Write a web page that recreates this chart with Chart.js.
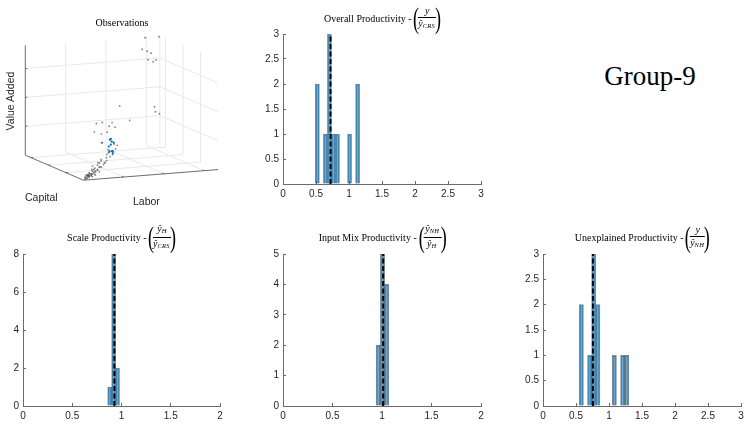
<!DOCTYPE html>
<html>
<head>
<meta charset="utf-8">
<script src="https://cdn.jsdelivr.net/npm/chart.js@4.4.0/dist/chart.umd.min.js"></script>
<style>
  html, body { margin: 0; padding: 0; background: #fff; }
  body { width: 750px; height: 426px; position: relative; overflow: hidden; }
  canvas { position: absolute; }
  .ttl { position: absolute; display: flex; align-items: center; justify-content: center;
         font-family: "Liberation Serif", serif; font-size: 10px; color: #000;
         white-space: nowrap; transform: translateX(-50%); }
  .par { font-size: 30px; line-height: 28px; display: inline-block; transform: scaleX(0.6); margin: 0 -3px; font-weight: 300; }
  .frac { display: inline-flex; flex-direction: column; align-items: center; font-size: 10px; line-height: 10px; }
  .frac .num { border-bottom: 0.8px solid #000; padding: 0 2px 1px; text-align: center; align-self: stretch; }
  .frac .den { padding-top: 1px; padding-right: 1px; }
  .frac sub { font-size: 6.5px; font-style: italic; vertical-align: -1px; letter-spacing: 0.3px; }
  .lbl { position: absolute; font-family: "Liberation Sans", Arial, sans-serif; font-size: 10.5px;
         color: #262626; white-space: nowrap; }
  .grp { position: absolute; left: 650px; top: 63px; transform: translateX(-50%);
         font-family: "Liberation Serif", serif; font-size: 27px; line-height: 27px; color: #000; }
</style>
</head>
<body>
<canvas id="obs"></canvas>
<canvas id="overall"></canvas>
<canvas id="scale"></canvas>
<canvas id="mix"></canvas>
<canvas id="unexpl"></canvas>

<div class="ttl" style="left:122px; top:15px; height:14px;">Observations</div>
<div class="lbl" style="left:10px; top:101px; transform:translate(-50%,-50%) rotate(-90deg);">Value Added</div>
<div class="lbl" style="left:25px; top:191px;">Capital</div>
<div class="lbl" style="left:133px; top:195px;">Labor</div>

<div class="ttl" style="left:382px; top:4px; height:28px;">Overall Productivity -&nbsp;<span class="par">(</span><span class="frac"><span class="num"><i>y</i></span><span class="den"><i>ŷ</i><sub>CRS</sub></span></span><span class="par">)</span></div>
<div class="ttl" style="left:121px; top:223px; height:28px;">Scale Productivity -&nbsp;<span class="par">(</span><span class="frac"><span class="num"><i>ŷ</i><sub>H</sub></span><span class="den"><i>ŷ</i><sub>CRS</sub></span></span><span class="par">)</span></div>
<div class="ttl" style="left:382px; top:223px; height:28px;">Input Mix Productivity -&nbsp;<span class="par">(</span><span class="frac"><span class="num"><i>ŷ</i><sub>NH</sub></span><span class="den"><i>ŷ</i><sub>H</sub></span></span><span class="par">)</span></div>
<div class="ttl" style="left:642px; top:223px; height:28px;">Unexplained Productivity -&nbsp;<span class="par">(</span><span class="frac"><span class="num"><i>y</i></span><span class="den"><i>ŷ</i><sub>NH</sub></span></span><span class="par">)</span></div>

<div class="grp">Group-9</div>

<script>
// histogram bins (centres) and counts
const overallCenters = [0.5205, 0.5815, 0.6425, 0.7035, 0.7645, 0.8255, 0.8865, 0.9475, 1.0085, 1.0695, 1.1305];
const overallCounts  = [2, 0, 1, 3, 1, 1, 0, 0, 1, 0, 2];
const overallMean = 0.72;

const scaleCenters = [0.88, 0.92, 0.96];
const scaleCounts  = [1, 8, 2];
const scaleMean = 0.928;

const mixCenters = [0.962, 1.005, 1.048];
const mixCounts  = [2, 5, 4];
const mixMean = 1.012;

const unexplCenters = [0.58125, 0.64375, 0.70625, 0.76875, 0.83125, 0.89375, 0.95625, 1.01875, 1.08125, 1.14375, 1.20625, 1.26875];
const unexplCounts  = [2, 0, 1, 3, 2, 0, 0, 0, 1, 0, 1, 1];
const unexplMean = 0.756;

// 3-D observations (normalised capital, labor, value added)
const obsCapital = [
  0.03,0.05,0.04,0.06,0.08,0.02,0.07,0.05,0.09,0.10,0.03,0.06,0.04,0.08,0.11,0.02,0.07,0.05,0.09,0.12,
  0.04,0.06,0.10,0.03,0.08,0.05,0.07,0.09,0.02,0.06,
  0.08,0.10,0.12,0.06,0.14,0.09,0.15,0.11,0.13,0.07,0.16,0.12,0.18,0.10,0.20,0.14,0.17,0.08,0.19,0.05,
  0.22,0.13,0.11,0.16,0.24,0.09,0.21,0.15,0.26,0.18,
  0.5,0.5,0.5,0.5,0.5,0.3,0.3,0.3,0.3,0.3,0.3,0.3,0.3,
  0.95,0.95,0.95,0.95,0.95,0.95,0.95,0.95
];
const obsLabor = [
  0.04,0.05,0.06,0.07,0.06,0.03,0.09,0.08,0.10,0.08,0.07,0.04,0.10,0.11,0.09,0.05,0.05,0.11,0.07,0.10,
  0.03,0.09,0.12,0.08,0.08,0.06,0.12,0.13,0.02,0.06,
  0.14,0.16,0.13,0.15,0.18,0.20,0.17,0.22,0.19,0.18,0.24,0.25,0.21,0.26,0.28,0.30,0.23,0.12,0.15,0.14,
  0.27,0.16,0.11,0.32,0.30,0.17,0.20,0.13,0.34,0.26,
  0.486,0.744,0.751,0.781,0.56,0.27,0.343,0.321,0.226,0.211,0.263,0.307,0.365,
  0.869,0.972,0.847,0.884,0.913,0.891,0.928,0.95
];
const obsValueAdded = [
  0.03,0.05,0.08,0.06,0.10,0.02,0.09,0.12,0.11,0.07,0.10,0.04,0.14,0.15,0.13,0.06,0.08,0.10,0.05,0.09,
  0.04,0.13,0.16,0.07,0.12,0.09,0.18,0.20,0.01,0.11,
  0.25,0.30,0.22,0.35,0.40,0.45,0.33,0.50,0.28,0.42,0.55,0.62,0.48,0.70,0.75,0.85,0.38,0.30,0.27,0.20,
  0.60,0.18,0.24,0.95,0.68,0.52,0.35,0.15,0.90,0.80,
  1.96,1.83,1.66,1.58,1.43,1.64,1.61,1.49,1.62,1.33,1.24,1.29,1.44,
  3.79,3.79,3.40,3.32,3.24,3.02,2.94,2.99
];
const groupCapital    = [0.2,0.2,0.2,0.2,0.2,0.2,0.2,0.2,0.2,0.2,0.2];
const groupLabor      = [0.224,0.283,0.297,0.312,0.275,0.297,0.275,0.305,0.29,0.29,0.305];
const groupValueAdded = [1.04,1.12,1.05,1.01,0.89,0.72,0.69,0.65,0.95,1.15,0.72];

const capTicks = [0.3, 0.6, 0.9];
const labTicks = [0.3, 0.6, 0.9];
const vaTicks  = [1, 2, 3];
const vaMax = 3.8;

const axisColor = '#6b6b6b';
const tickFont = { family: 'Liberation Sans', size: 10 };
const fmt = v => String(+v.toFixed(2));

// oblique view of the 3-D box
function project(c, l, v) {
  return { x: 82 - 60 * c + 139 * l, y: 183 - 26 * c - 11 * l - 30 * v };
}

const box3d = {
  id: 'box3d',
  beforeDatasetsDraw(chart) {
    const ctx = chart.ctx, sx = chart.scales.x, sy = chart.scales.y;
    const P = (c, l, v) => {
      const p = project(c, l, v);
      return [sx.getPixelForValue(p.x), sy.getPixelForValue(p.y)];
    };
    const seg = (a, b, col) => {
      ctx.beginPath(); ctx.moveTo(a[0], a[1]); ctx.lineTo(b[0], b[1]);
      ctx.strokeStyle = col; ctx.lineWidth = 1; ctx.stroke();
    };
    ctx.save();
    const g = '#e8e8e8';
    capTicks.forEach(c => { seg(P(c, 0, 0), P(c, 1, 0), g); seg(P(c, 1, 0), P(c, 1, vaMax), g); });
    labTicks.forEach(l => { seg(P(0, l, 0), P(1, l, 0), g); seg(P(1, l, 0), P(1, l, vaMax), g); });
    vaTicks.forEach(v => { seg(P(1, 0, v), P(1, 1, v), g); seg(P(1, 1, v), P(0, 1, v), g); });
    seg(P(1, 1, 0), P(1, 1, vaMax), g);
    // axes
    seg(P(0, 0, 0), P(1, 0, 0), axisColor);
    seg(P(0, 0, 0), P(0, 1, 0), axisColor);
    seg(P(1, 0, 0), P(1, 0, vaMax), axisColor);
    capTicks.forEach(c => seg(P(c, 0, 0), P(c, 0.015, 0), axisColor));
    labTicks.forEach(l => seg(P(0, l, 0), P(0.03, l, 0), axisColor));
    vaTicks.forEach(v => seg(P(1, 0, v), P(1, 0.015, v), axisColor));
    ctx.restore();
  }
};

const obsCv = document.getElementById('obs');
obsCv.width = 250; obsCv.height = 215;
obsCv.style.left = '0px'; obsCv.style.top = '0px';
new Chart(obsCv, {
  type: 'scatter',
  data: {
    datasets: [
      {
        data: groupCapital.map((c, i) => project(c, groupLabor[i], groupValueAdded[i])),
        pointRadius: 1.1, pointBorderWidth: 0, backgroundColor: '#0072BD', order: 0
      },
      {
        data: obsCapital.map((c, i) => project(c, obsLabor[i], obsValueAdded[i])),
        pointRadius: 0.9, pointBorderWidth: 0, backgroundColor: 'rgba(80,80,80,0.7)', order: 1
      }
    ]
  },
  options: {
    animation: false, responsive: false,
    layout: { padding: 0 },
    plugins: { legend: { display: false }, tooltip: { enabled: false } },
    scales: {
      x: { type: 'linear', min: 0, max: 250, display: false },
      y: { type: 'linear', min: 0, max: 215, reverse: true, display: false }
    }
  },
  plugins: [box3d]
});

function histChart(id, box, centers, counts, mean, xMax, yMax, yStep) {
  const cv = document.getElementById(id);
  cv.width = box.w + 50; cv.height = box.h + 40;
  cv.style.left = (box.l - 40) + 'px'; cv.style.top = (box.t - 10) + 'px';
  new Chart(cv, {
    type: 'bar',
    data: {
      datasets: [
        {
          type: 'line', data: [{ x: mean, y: 0 }, { x: mean, y: yMax }],
          borderColor: '#000', borderWidth: 2, borderDash: [5, 2.5], pointRadius: 0, order: 0
        },
        {
          data: centers.map((c, i) => ({ x: c, y: counts[i] })),
          backgroundColor: 'rgba(0,114,189,0.6)', borderColor: 'rgba(20,40,60,0.55)',
          borderWidth: 1, barPercentage: 1, categoryPercentage: 1, order: 1
        }
      ]
    },
    options: {
      animation: false, responsive: false,
      layout: { padding: { top: 10, right: 10, left: 0, bottom: 0 } },
      plugins: { legend: { display: false }, tooltip: { enabled: false } },
      scales: {
        x: {
          type: 'linear', min: 0, max: xMax, offset: false,
          ticks: { stepSize: 0.5, font: tickFont, color: '#262626', padding: 7, maxRotation: 0, autoSkip: false, callback: fmt },
          grid: { offset: false, drawOnChartArea: false, tickLength: -3, color: axisColor },
          border: { color: axisColor },
          afterFit: s => { s.height = 30; }
        },
        y: {
          min: 0, max: yMax,
          ticks: { stepSize: yStep, font: tickFont, color: '#262626', padding: 7, callback: fmt },
          grid: { drawOnChartArea: false, tickLength: -3, color: axisColor },
          border: { color: axisColor },
          afterFit: s => { s.width = 40; }
        }
      }
    }
  });
}

histChart('overall', { l: 283, t: 31, w: 198, h: 153 }, overallCenters, overallCounts, overallMean, 3, 3, 0.5);
histChart('scale', { l: 23, t: 251, w: 197, h: 155 }, scaleCenters, scaleCounts, scaleMean, 2, 8, 2);
histChart('mix', { l: 283, t: 251, w: 198, h: 155 }, mixCenters, mixCounts, mixMean, 2, 5, 1);
histChart('unexpl', { l: 543, t: 251, w: 198, h: 155 }, unexplCenters, unexplCounts, unexplMean, 3, 3, 0.5);
</script>
</body>
</html>
